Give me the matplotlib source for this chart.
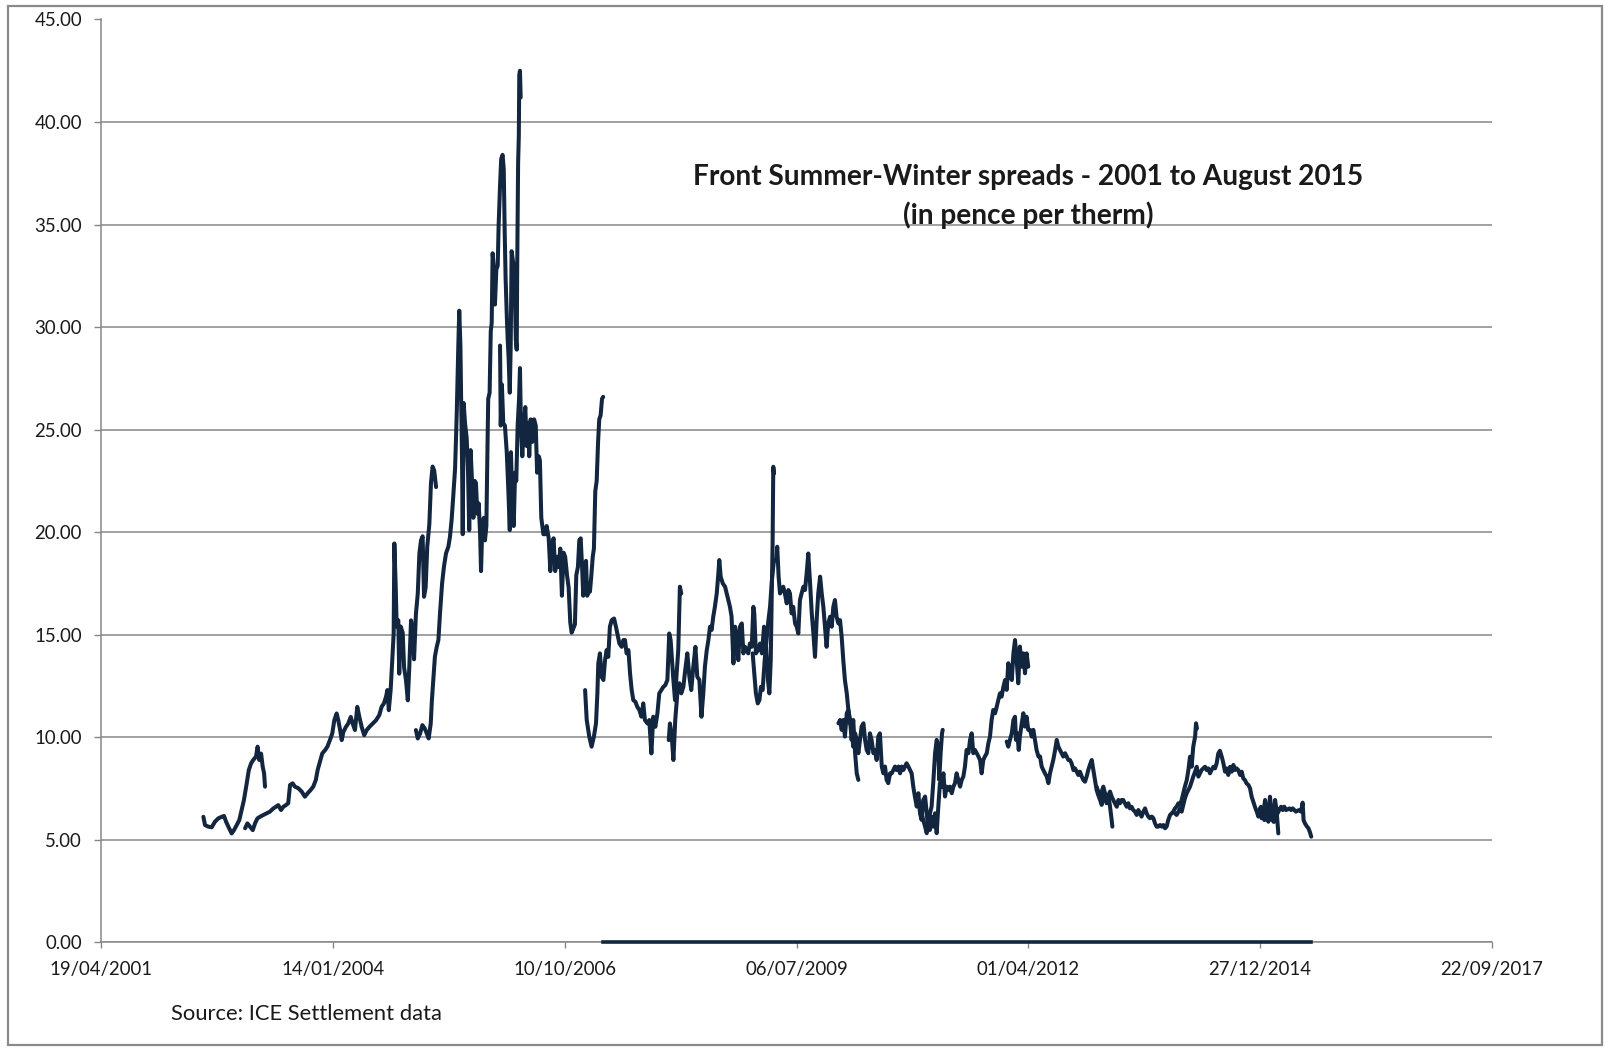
import matplotlib
matplotlib.use("Agg")
import matplotlib.pyplot as plt
import matplotlib.dates as mdates
from matplotlib.ticker import FormatStrFormatter
from matplotlib.patches import Rectangle
import numpy as np
import pandas as pd

plt.rcParams['font.family'] = ['Lato', 'DejaVu Sans']

# ---------------- data (dates as Excel serial numbers, values in pence/therm) ----------------
S2002_serial = [37440, 37447, 37461, 37476, 37490, 37504, 37519, 37529, 37538, 37549, 37562, 37572, 37584,
                37595, 37605, 37615, 37627, 37636, 37646, 37655, 37667, 37674, 37681, 37689, 37696, 37702, 37706]
S2002_value = [6.12, 5.72, 5.64, 5.61, 5.88, 6.04, 6.12, 6.16, 5.88, 5.61, 5.31, 5.47, 5.72,
               5.96, 6.45, 6.94, 7.75, 8.40, 8.73, 8.89, 9.05, 9.54, 8.89, 9.20, 8.56, 8.24, 7.59]

S2004_serial = [37620, 37630, 37641, 37653, 37663, 37673, 37684, 37699, 37713, 37727, 37742, 37753, 37763,
                37775, 37785, 37796, 37806, 37814, 37825, 37835, 37850, 37864, 37878, 37890, 37903, 37914,
                37925, 37933, 37943, 37953, 37965, 37975, 37986, 37996, 38005, 38015, 38022, 38030, 38037,
                38044, 38055, 38065, 38076, 38084, 38094, 38104, 38113, 38123, 38134, 38145, 38156, 38171,
                38185, 38199, 38209, 38219, 38228, 38234, 38240, 38248, 38255, 38261, 38264, 38270, 38274,
                38281, 38285, 38291, 38300, 38306, 38314, 38322, 38328, 38336, 38344, 38349, 38357, 38365,
                38372, 38379, 38386, 38392, 38399, 38406, 38415, 38422, 38429, 38436, 38444]
S2004_value = [5.56, 5.80, 5.64, 5.47, 5.80, 6.04, 6.12, 6.21, 6.29, 6.37, 6.53, 6.61, 6.69,
               6.45, 6.61, 6.69, 6.78, 7.67, 7.75, 7.59, 7.51, 7.35, 7.10, 7.27, 7.43, 7.59,
               7.91, 8.40, 8.81, 9.21, 9.37, 9.54, 9.86, 10.18, 10.83, 11.16, 10.83, 10.35, 9.86,
               10.26, 10.50, 10.67, 10.99, 10.67, 10.35, 11.48, 10.99, 10.50, 10.10, 10.35, 10.50, 10.67,
               10.83, 11.08, 11.48, 11.65, 11.97, 12.30, 11.32, 12.30, 13.76, 15.06, 19.45, 17.30, 15.40,
               15.70, 13.10, 15.40, 15.10, 13.40, 12.80, 11.80, 13.30, 15.70, 15.10, 13.80, 16.00, 17.00,
               18.96, 19.60, 19.80, 16.85, 17.30, 19.30, 20.40, 22.40, 23.20, 23.00, 22.20]

S2005_serial = [38357, 38365, 38375, 38385, 38395, 38404, 38412, 38421, 38426, 38432, 38439, 38447, 38454,
                38461, 38470, 38478, 38487, 38497, 38504, 38511, 38518, 38526, 38533, 38540, 38544, 38549,
                38552, 38556, 38559, 38563, 38569, 38576, 38582, 38587, 38593, 38599, 38605, 38611, 38616,
                38622, 38628, 38634, 38638, 38643, 38650, 38655, 38661, 38665, 38669, 38675, 38680, 38684,
                38688, 38694, 38698, 38704, 38710, 38714, 38720, 38725, 38731, 38736, 38740, 38744, 38749,
                38753, 38757, 38762, 38766, 38770, 38776, 38782, 38788, 38792, 38794, 38798, 38801, 38803,
                38806, 38809]
S2005_value = [10.35, 9.94, 10.18, 10.59, 10.43, 10.18, 9.94, 10.67, 11.81, 12.79, 13.93, 14.41, 14.74,
               16.04, 17.50, 18.32, 18.97, 19.29, 19.78, 20.59, 21.73, 23.10, 25.70, 29.10, 30.80, 29.10,
               26.60, 23.50, 19.90, 26.30, 25.30, 24.60, 22.90, 20.10, 24.00, 22.50, 20.70, 22.50, 22.40,
               20.90, 21.40, 19.90, 18.10, 20.10, 20.70, 19.60, 20.30, 23.50, 26.50, 26.80, 29.80, 30.20,
               33.60, 32.80, 31.10, 32.80, 33.00, 35.00, 36.90, 38.20, 38.40, 37.70, 34.70, 32.40, 30.60,
               29.40, 28.50, 26.80, 29.10, 33.70, 33.20, 32.80, 29.40, 28.90, 32.80, 38.00, 39.30, 42.30,
               42.50, 41.20]

S2006_serial = [38720, 38723, 38728, 38734, 38741, 38749, 38756, 38762, 38767, 38773, 38779, 38785, 38790,
                38796, 38802, 38806, 38810, 38816, 38823, 38829, 38835, 38841, 38846, 38852, 38859, 38867,
                38874, 38880, 38887, 38892, 38898, 38907, 38914, 38921, 38930, 38937, 38944, 38951, 38958,
                38965, 38973, 38980, 38987, 38994, 39001, 39009, 39016, 39023, 39029, 39036, 39043, 39049,
                39056, 39062, 39068, 39074, 39079, 39085, 39091, 39096, 39102, 39108, 39114, 39120, 39125,
                39131, 39137, 39143, 39148, 39154, 39160, 39165]
S2006_value = [29.10, 25.20, 27.20, 25.30, 25.20, 23.90, 22.00, 20.10, 23.90, 21.60, 20.30, 22.90, 22.50,
               25.20, 26.50, 28.00, 25.30, 23.70, 25.30, 26.10, 24.20, 25.30, 23.70, 25.50, 24.40, 25.50,
               25.20, 22.90, 23.70, 23.50, 20.70, 19.90, 19.90, 20.30, 19.70, 18.10, 19.40, 19.70, 18.10,
               18.80, 18.30, 19.20, 16.90, 19.00, 18.80, 17.90, 17.30, 15.60, 15.10, 15.30, 15.50, 17.90,
               18.30, 19.60, 19.70, 18.30, 16.90, 18.40, 18.60, 16.90, 17.10, 17.10, 17.90, 18.80, 19.20,
               22.00, 22.50, 24.40, 25.50, 25.70, 26.50, 26.60]

S2007_serial = [39087, 39094, 39105, 39115, 39125, 39134, 39140, 39144, 39151, 39158, 39166, 39173, 39180,
                39187, 39194, 39202, 39212, 39220, 39226, 39235, 39245, 39252, 39259, 39266, 39274, 39281,
                39288, 39295, 39304, 39312, 39321, 39330, 39338, 39345, 39356, 39364, 39373, 39381, 39390,
                39399, 39407, 39416, 39425, 39433, 39442, 39450, 39456, 39462, 39468, 39475, 39482, 39489,
                39496, 39502]
S2007_value = [12.30, 10.84, 10.03, 9.54, 10.03, 10.67, 12.14, 13.60, 14.09, 12.95, 12.79, 13.76, 14.25,
               13.92, 15.39, 15.71, 15.79, 15.39, 15.06, 14.57, 14.41, 14.74, 14.74, 14.09, 14.25, 13.11,
               12.30, 11.81, 11.73, 11.49, 11.33, 11.00, 11.65, 10.84, 10.67, 10.84, 9.21, 11.00, 10.51,
               11.16, 12.14, 12.30, 12.46, 12.54, 12.79, 15.06, 14.74, 13.76, 12.79, 11.81, 13.11, 14.25,
               17.34, 17.01]

S2008_serial = [39448, 39453, 39461, 39468, 39476, 39485, 39494, 39502, 39511, 39519, 39528, 39537, 39545,
                39554, 39563, 39571, 39580, 39589, 39597, 39604, 39612, 39619, 39626, 39633, 39640, 39647,
                39655, 39662, 39666, 39672, 39681, 39691, 39698, 39705, 39712, 39719, 39727, 39734, 39741,
                39748, 39755, 39763, 39770, 39777, 39784, 39791, 39798, 39806, 39813, 39817, 39824, 39833,
                39842, 39850, 39859, 39868, 39876, 39882, 39888, 39892, 39896, 39899, 39902]
S2008_value = [9.86, 10.67, 10.03, 8.89, 10.84, 12.14, 12.63, 12.14, 12.46, 13.27, 14.09, 12.95, 12.30,
               13.44, 14.41, 12.95, 12.79, 11.00, 12.14, 13.44, 14.25, 14.74, 15.39, 15.23, 15.88, 16.36,
               17.01, 17.99, 18.64, 17.83, 17.50, 17.34, 17.01, 16.69, 16.36, 15.88, 13.60, 15.39, 14.90,
               13.76, 15.39, 15.55, 14.09, 14.41, 14.25, 14.09, 14.57, 14.41, 16.36, 16.04, 14.09, 14.25,
               14.57, 14.09, 15.39, 14.41, 12.79, 12.14, 13.76, 16.69, 19.45, 23.19, 22.86]

S2009_serial = [39810, 39817, 39824, 39832, 39839, 39846, 39853, 39862, 39870, 39878, 39885, 39893, 39902,
                39911, 39916, 39922, 39928, 39935, 39942, 39949, 39957, 39964, 39971, 39978, 39985, 39993,
                40000, 40007, 40014, 40021, 40029, 40036, 40043, 40050, 40057, 40065, 40072, 40079, 40086,
                40093, 40101, 40108, 40115, 40122, 40129, 40136, 40144, 40151, 40158, 40165, 40172, 40180,
                40187, 40194, 40201, 40208, 40216, 40223, 40230, 40237, 40244, 40252, 40259, 40266]
S2009_value = [14.09, 13.11, 12.14, 11.65, 11.81, 12.46, 12.30, 13.76, 14.74, 15.71, 16.36, 17.66, 18.64,
               18.64, 19.29, 17.83, 17.01, 17.18, 17.34, 17.01, 16.53, 17.18, 17.01, 16.04, 16.36, 15.55,
               15.39, 15.06, 16.69, 17.01, 17.34, 17.18, 17.99, 18.96, 17.66, 16.04, 15.06, 13.92, 15.71,
               17.01, 17.83, 17.01, 16.36, 15.39, 14.41, 15.55, 15.88, 15.39, 16.36, 16.69, 15.88, 15.55,
               15.71, 14.90, 13.76, 12.79, 12.14, 11.33, 10.84, 9.87, 10.84, 9.22, 8.24, 7.92]

S2010_serial = [40180, 40187, 40194, 40201, 40208, 40216, 40223, 40230, 40237, 40244, 40252, 40259, 40266,
                40273, 40280, 40288, 40295, 40302, 40309, 40316, 40323, 40331, 40338, 40345, 40352, 40359,
                40367, 40374, 40381, 40388, 40395, 40403, 40410, 40417, 40424, 40431, 40439, 40446, 40453,
                40460, 40467, 40474, 40482, 40489, 40496, 40503, 40510, 40518, 40525, 40532, 40539, 40546,
                40554, 40561, 40568, 40575, 40582, 40590, 40597, 40604, 40611, 40615, 40621, 40627, 40630]
S2010_value = [10.68, 10.84, 10.36, 10.84, 10.03, 11.17, 11.33, 10.68, 10.52, 9.54, 10.19, 9.87, 9.22,
               9.87, 10.52, 10.68, 9.87, 9.38, 9.22, 10.19, 9.87, 9.22, 9.38, 8.89, 10.03, 10.19,
               8.57, 8.24, 8.57, 7.92, 7.76, 8.24, 8.24, 8.40, 8.57, 8.40, 8.57, 8.24, 8.57,
               8.40, 8.57, 8.73, 8.57, 8.40, 8.24, 7.59, 7.11, 6.62, 7.27, 6.29, 5.97, 6.94,
               7.11, 6.29, 5.48, 6.29, 6.62, 7.92, 9.22, 9.87, 9.54, 7.92, 9.22, 10.19, 10.36]

S2011_serial = [40532, 40539, 40546, 40554, 40561, 40568, 40575, 40582, 40590, 40597, 40604, 40611, 40618,
                40626, 40633, 40640, 40647, 40654, 40661, 40669, 40676, 40683, 40690, 40697, 40705, 40712,
                40719, 40726, 40733, 40741, 40748, 40755, 40762, 40769, 40777, 40784, 40791, 40798, 40805,
                40812, 40820, 40827, 40834, 40841, 40848, 40856, 40863, 40870, 40877, 40884, 40892, 40899,
                40906, 40913, 40920, 40928, 40935, 40942, 40949, 40956, 40963, 40971, 40978, 40985, 40992,
                40999]
S2011_value = [6.78, 6.29, 5.97, 5.64, 5.32, 5.97, 5.48, 6.13, 5.64, 6.29, 5.32, 6.62, 7.76,
               7.59, 8.24, 7.11, 7.59, 7.43, 7.59, 7.27, 7.59, 7.76, 8.24, 7.92, 7.59, 7.92,
               8.08, 8.57, 9.38, 9.22, 9.87, 10.19, 9.22, 9.38, 9.22, 9.06, 8.89, 8.24, 8.89,
               9.06, 9.22, 9.71, 10.03, 10.84, 11.33, 11.17, 11.49, 11.82, 12.14, 11.98, 12.47, 12.79,
               12.31, 13.61, 13.12, 12.79, 14.09, 14.74, 13.77, 12.63, 14.42, 13.44, 14.09, 13.12, 14.09,
               13.44]

S2012_serial = [40906, 40913, 40920, 40928, 40935, 40942, 40946, 40952, 40958, 40963, 40971, 40978, 40985,
                40992, 40999, 41007, 41014, 41021, 41028, 41035, 41043, 41050, 41057, 41064, 41071, 41079,
                41086, 41093, 41100, 41107, 41115, 41122, 41129, 41136, 41143, 41150, 41158, 41165, 41172,
                41179, 41186, 41194, 41201, 41208, 41215, 41222, 41230, 41237, 41244, 41251, 41258, 41265,
                41273, 41280, 41287, 41294, 41301, 41309, 41316, 41323, 41330, 41337, 41345, 41352, 41359,
                41362]
S2012_value = [9.79, 9.54, 9.87, 10.19, 10.84, 11.00, 9.87, 10.19, 9.38, 10.03, 10.68, 11.17, 10.52,
               11.00, 10.36, 10.36, 10.03, 10.36, 9.87, 9.38, 9.06, 9.06, 8.57, 8.40, 8.24, 8.08,
               7.76, 8.24, 8.57, 8.89, 9.38, 9.87, 9.54, 9.38, 9.22, 9.06, 9.22, 9.06, 8.89,
               8.89, 8.73, 8.40, 8.48, 8.32, 8.16, 8.32, 8.08, 7.91, 7.83, 8.08, 8.40, 8.65,
               8.89, 8.40, 7.91, 7.43, 7.18, 6.94, 6.70, 7.43, 7.10, 6.78, 7.18, 6.61, 5.96,
               5.64]

S2013_serial = [41294, 41301, 41309, 41316, 41323, 41330, 41337, 41345, 41352, 41359, 41366, 41373, 41381,
                41388, 41395, 41402, 41409, 41416, 41424, 41431, 41438, 41445, 41452, 41460, 41467, 41474,
                41481, 41488, 41496, 41503, 41510, 41517, 41524, 41532, 41539, 41546, 41553, 41560, 41568,
                41575, 41582, 41589, 41596, 41603, 41611, 41618, 41625, 41632, 41639, 41647, 41654, 41661,
                41668, 41675, 41683, 41690, 41697, 41704, 41711, 41719, 41723, 41727]
S2013_value = [7.59, 7.35, 7.18, 7.35, 7.59, 7.27, 7.02, 7.18, 7.35, 7.10, 6.94, 6.78, 6.61,
               6.94, 6.78, 6.94, 6.94, 6.78, 6.61, 6.78, 6.53, 6.61, 6.45, 6.37, 6.21, 6.45,
               6.29, 6.13, 6.37, 6.53, 6.29, 6.13, 6.05, 6.13, 6.05, 5.80, 5.64, 5.64, 5.72,
               5.64, 5.72, 5.56, 5.64, 5.96, 6.21, 6.29, 6.37, 6.53, 6.61, 6.78, 6.70, 6.94,
               7.27, 7.59, 7.91, 8.40, 9.05, 8.56, 9.54, 10.03, 10.68, 10.43]

S2014_serial = [41632, 41639, 41647, 41654, 41661, 41668, 41675, 41683, 41690, 41697, 41704, 41711, 41719,
                41726, 41733, 41740, 41747, 41754, 41762, 41769, 41776, 41783, 41790, 41798, 41805, 41812,
                41819, 41826, 41834, 41841, 41848, 41855, 41862, 41870, 41877, 41884, 41891, 41898, 41905,
                41913, 41920, 41927, 41934, 41941, 41949, 41956, 41963, 41970, 41977, 41985, 41992, 41999,
                42006, 42013, 42021, 42028, 42035, 42042, 42049, 42057, 42064, 42071, 42078]
S2014_value = [6.29, 6.21, 6.37, 6.53, 6.37, 6.70, 7.02, 7.27, 7.43, 7.59, 7.83, 8.08, 8.32,
               8.56, 8.08, 8.24, 8.40, 8.48, 8.56, 8.40, 8.48, 8.24, 8.40, 8.56, 8.48, 8.73,
               9.21, 9.34, 9.05, 8.73, 8.32, 8.48, 8.16, 8.56, 8.32, 8.65, 8.40, 8.48, 8.40,
               8.16, 8.32, 7.99, 7.91, 7.75, 7.67, 7.51, 7.10, 6.86, 6.61, 6.37, 6.13, 6.53,
               6.05, 6.29, 6.94, 6.37, 5.88, 7.10, 6.29, 5.88, 6.94, 6.37, 5.31]

S2015_serial = [41996, 42003, 42010, 42018, 42025, 42032, 42039, 42046, 42054, 42061, 42068, 42075, 42082,
                42090, 42097, 42104, 42111, 42118, 42126, 42133, 42140, 42147, 42154, 42161, 42169, 42176,
                42183, 42187, 42193, 42200, 42208, 42215, 42220]
S2015_value = [6.29, 6.61, 6.13, 5.96, 6.53, 6.21, 5.96, 6.53, 6.13, 5.88, 6.61, 6.29, 6.45,
               6.61, 6.45, 6.61, 6.45, 6.48, 6.53, 6.45, 6.53, 6.45, 6.37, 6.42, 6.45, 6.37,
               6.81, 5.96, 5.80, 5.67, 5.56, 5.35, 5.15]

ZERO_serial = [39165, 42220]
ZERO_value = [0.0, 0.0]

XTICK_serial = [37000, 38000, 39000, 40000, 41000, 42000, 43000]
YTICKS = [0, 5, 10, 15, 20, 25, 30, 35, 40, 45]

TITLE_1 = "Front Summer-Winter spreads - 2001 to August 2015"
TITLE_2 = "(in pence per therm)"
SOURCE = "Source: ICE Settlement data"

SERIES = [(S2002_serial, S2002_value), (S2004_serial, S2004_value), (S2005_serial, S2005_value),
          (S2006_serial, S2006_value), (S2007_serial, S2007_value), (S2008_serial, S2008_value),
          (S2009_serial, S2009_value), (S2010_serial, S2010_value), (S2011_serial, S2011_value),
          (S2012_serial, S2012_value), (S2013_serial, S2013_value), (S2014_serial, S2014_value),
          (S2015_serial, S2015_value)]

NAVY = "#13263f"
GRID = "#878787"
TEXT = "#1a1a1a"


def to_dates(serials):
    return pd.to_datetime(np.asarray(serials, dtype=float), unit='D', origin='1899-12-30')


W, H = 1606, 1048
fig = plt.figure(figsize=(W / 100, H / 100), dpi=100)
fig.patch.set_facecolor('white')

left, right, bottom, top = 101.4 / W, 1492 / W, 1 - 942.3 / H, 1 - 19.5 / H
ax = fig.add_axes([left, bottom, right - left, top - bottom])

for s, v in SERIES:
    ax.plot(to_dates(s), v, color=NAVY, lw=2.9, solid_joinstyle='round', solid_capstyle='round', zorder=3)
ax.plot(to_dates(ZERO_serial), ZERO_value, color=NAVY, lw=2.6, zorder=4, clip_on=False)

ax.set_xlim(to_dates([XTICK_serial[0]])[0], to_dates([XTICK_serial[-1]])[0])
ax.set_ylim(0, 45)
ax.set_xticks(to_dates(XTICK_serial))
ax.xaxis.set_major_formatter(mdates.DateFormatter('%d/%m/%Y'))
ax.set_yticks(YTICKS)
ax.yaxis.set_major_formatter(FormatStrFormatter('%.2f'))

ax.grid(axis='y', color=GRID, lw=1.1)
ax.grid(axis='x', visible=False)
ax.set_axisbelow(True)
for sp in ['top', 'right']:
    ax.spines[sp].set_visible(False)
for sp in ['left', 'bottom']:
    ax.spines[sp].set_color(GRID)
    ax.spines[sp].set_linewidth(1.1)

ax.tick_params(axis='y', direction='out', length=5, width=1, color=GRID, pad=9,
               labelsize=13.4, labelcolor=TEXT)
ax.tick_params(axis='x', direction='out', length=4.5, width=1, color=GRID, pad=9,
               labelsize=13.4, labelcolor=TEXT)

fig.text(1028 / W, 1 - 177 / H, TITLE_1, ha='center', va='center', fontsize=20.2,
         fontweight='bold', color=TEXT)
fig.text(1028 / W, 1 - 215 / H, TITLE_2, ha='center', va='center', fontsize=20.2,
         fontweight='bold', color=TEXT)
fig.text(171 / W, 1 - 1014 / H, SOURCE, ha='left', va='center', fontsize=15.8, color=TEXT)

fig.patches.append(Rectangle((8 / W, 1 - 1045 / H), (1602 - 8) / W, (1045 - 6) / H,
                             transform=fig.transFigure, fill=False, edgecolor='#8a8a8a', lw=1.6))

fig.savefig('out.png', dpi=100, facecolor='white')
